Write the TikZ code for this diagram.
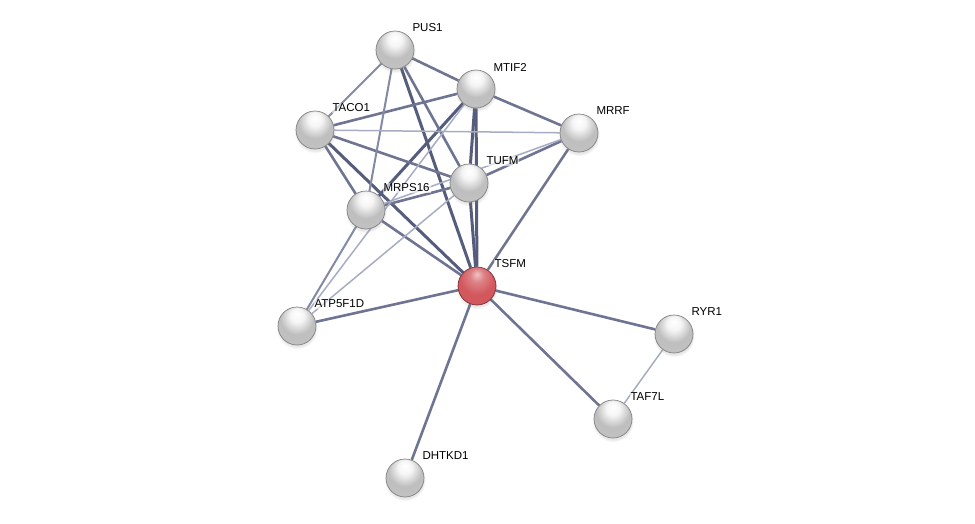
\documentclass[tikz,border=0pt]{standalone}
\usepackage{fontspec}
\setmainfont{Liberation Sans}
\usepackage{xcolor}
\usetikzlibrary{backgrounds, shadows}

\definecolor{edgedark}{RGB}{86,93,124}
\definecolor{edgemid}{RGB}{110,116,146}
\definecolor{edgesoft}{RGB}{132,137,164}
\definecolor{edgelight}{RGB}{168,172,194}
\definecolor{ballgrey}{RGB}{190,190,190}
\definecolor{ballred}{RGB}{210,88,94}

\pgfdeclareradialshading{greyball}{\pgfpoint{0bp}{16bp}}{%
  color(0bp)=(white); color(9bp)=(white!85!ballgrey); color(22bp)=(ballgrey);
  color(40bp)=(ballgrey!90!white); color(52bp)=(ballgrey!35!white); color(58bp)=(ballgrey!65!black);
  color(66bp)=(ballgrey!45!black)}
\pgfdeclareradialshading{redball}{\pgfpoint{0bp}{16bp}}{%
  color(0bp)=(white!65!ballred); color(9bp)=(ballred!75!white); color(22bp)=(ballred);
  color(40bp)=(ballred); color(52bp)=(ballred!65!white); color(58bp)=(ballred!75!black);
  color(66bp)=(ballred!50!black)}

\begin{document}
\begin{tikzpicture}[x=1pt, y=-1pt,
  every node/.style={font=\fontsize{11.5}{13}\selectfont},
  prot/.style={circle, minimum size=38pt, inner sep=0pt, draw=black!50, line width=0.7pt,
    shading=greyball, circular drop shadow={shadow xshift=0pt, shadow yshift=-2pt, opacity=0.2}},
  query/.style={prot, shading=redball, draw=ballred!55!black},
  lbl/.style={xshift=-3pt, yshift=22pt, inner sep=1pt,
    fill=white, fill opacity=0.6, text opacity=1},
  thickedge/.style={edgedark, line width=3pt},
  midedge/.style={edgemid, line width=2.6pt},
  thinedge/.style={edgesoft, line width=2pt},
  lightedge/.style={edgelight, line width=1.5pt}]
  \useasboundingbox (0,0) rectangle (975,523);
  % proteins
  \node[prot, label={[lbl]0:PUS1}] (pus1) at (395,50) {};
  \node[prot, label={[lbl]0:MTIF2}] (mtif2) at (476,89) {};
  \node[prot, label={[lbl]0:TACO1}] (taco1) at (315,130) {};
  \node[prot, label={[lbl]0:MRRF}] (mrrf) at (579,133) {};
  \node[prot, label={[lbl]0:TUFM}] (tufm) at (469,183) {};
  \node[prot, label={[lbl]0:MRPS16}] (mrps16) at (366,210) {};
  \node[query, label={[lbl]0:TSFM}] (tsfm) at (477,286) {};
  \node[prot, label={[lbl]0:ATP5F1D}] (atp5f1d) at (297,326) {};
  \node[prot, label={[lbl]0:RYR1}] (ryr1) at (674,334) {};
  \node[prot, label={[lbl]0:TAF7L}] (taf7l) at (613,419) {};
  \node[prot, label={[lbl]0:DHTKD1}] (dhtkd1) at (405,478) {};
  % interactions
  \begin{pgfonlayer}{background}
    \foreach \a/\b in {pus1/tsfm, taco1/tsfm, mtif2/mrps16, mtif2/tufm, mtif2/tsfm, tufm/tsfm}
      \draw[thickedge] (\a) -- (\b);
    \foreach \a/\b in {pus1/mtif2, pus1/tufm, mtif2/taco1, mtif2/mrrf, taco1/tufm, taco1/mrps16,
        mrrf/tufm, mrrf/tsfm, tufm/mrps16, mrps16/tsfm, tsfm/atp5f1d, tsfm/ryr1, tsfm/taf7l, tsfm/dhtkd1}
      \draw[midedge] (\a) -- (\b);
    \foreach \a/\b in {pus1/taco1, pus1/mrps16, mrps16/atp5f1d}
      \draw[thinedge] (\a) -- (\b);
    \foreach \a/\b in {taco1/mrrf, mrrf/mrps16, tufm/atp5f1d, mtif2/atp5f1d, ryr1/taf7l}
      \draw[lightedge] (\a) -- (\b);
  \end{pgfonlayer}
\end{tikzpicture}
\end{document}
